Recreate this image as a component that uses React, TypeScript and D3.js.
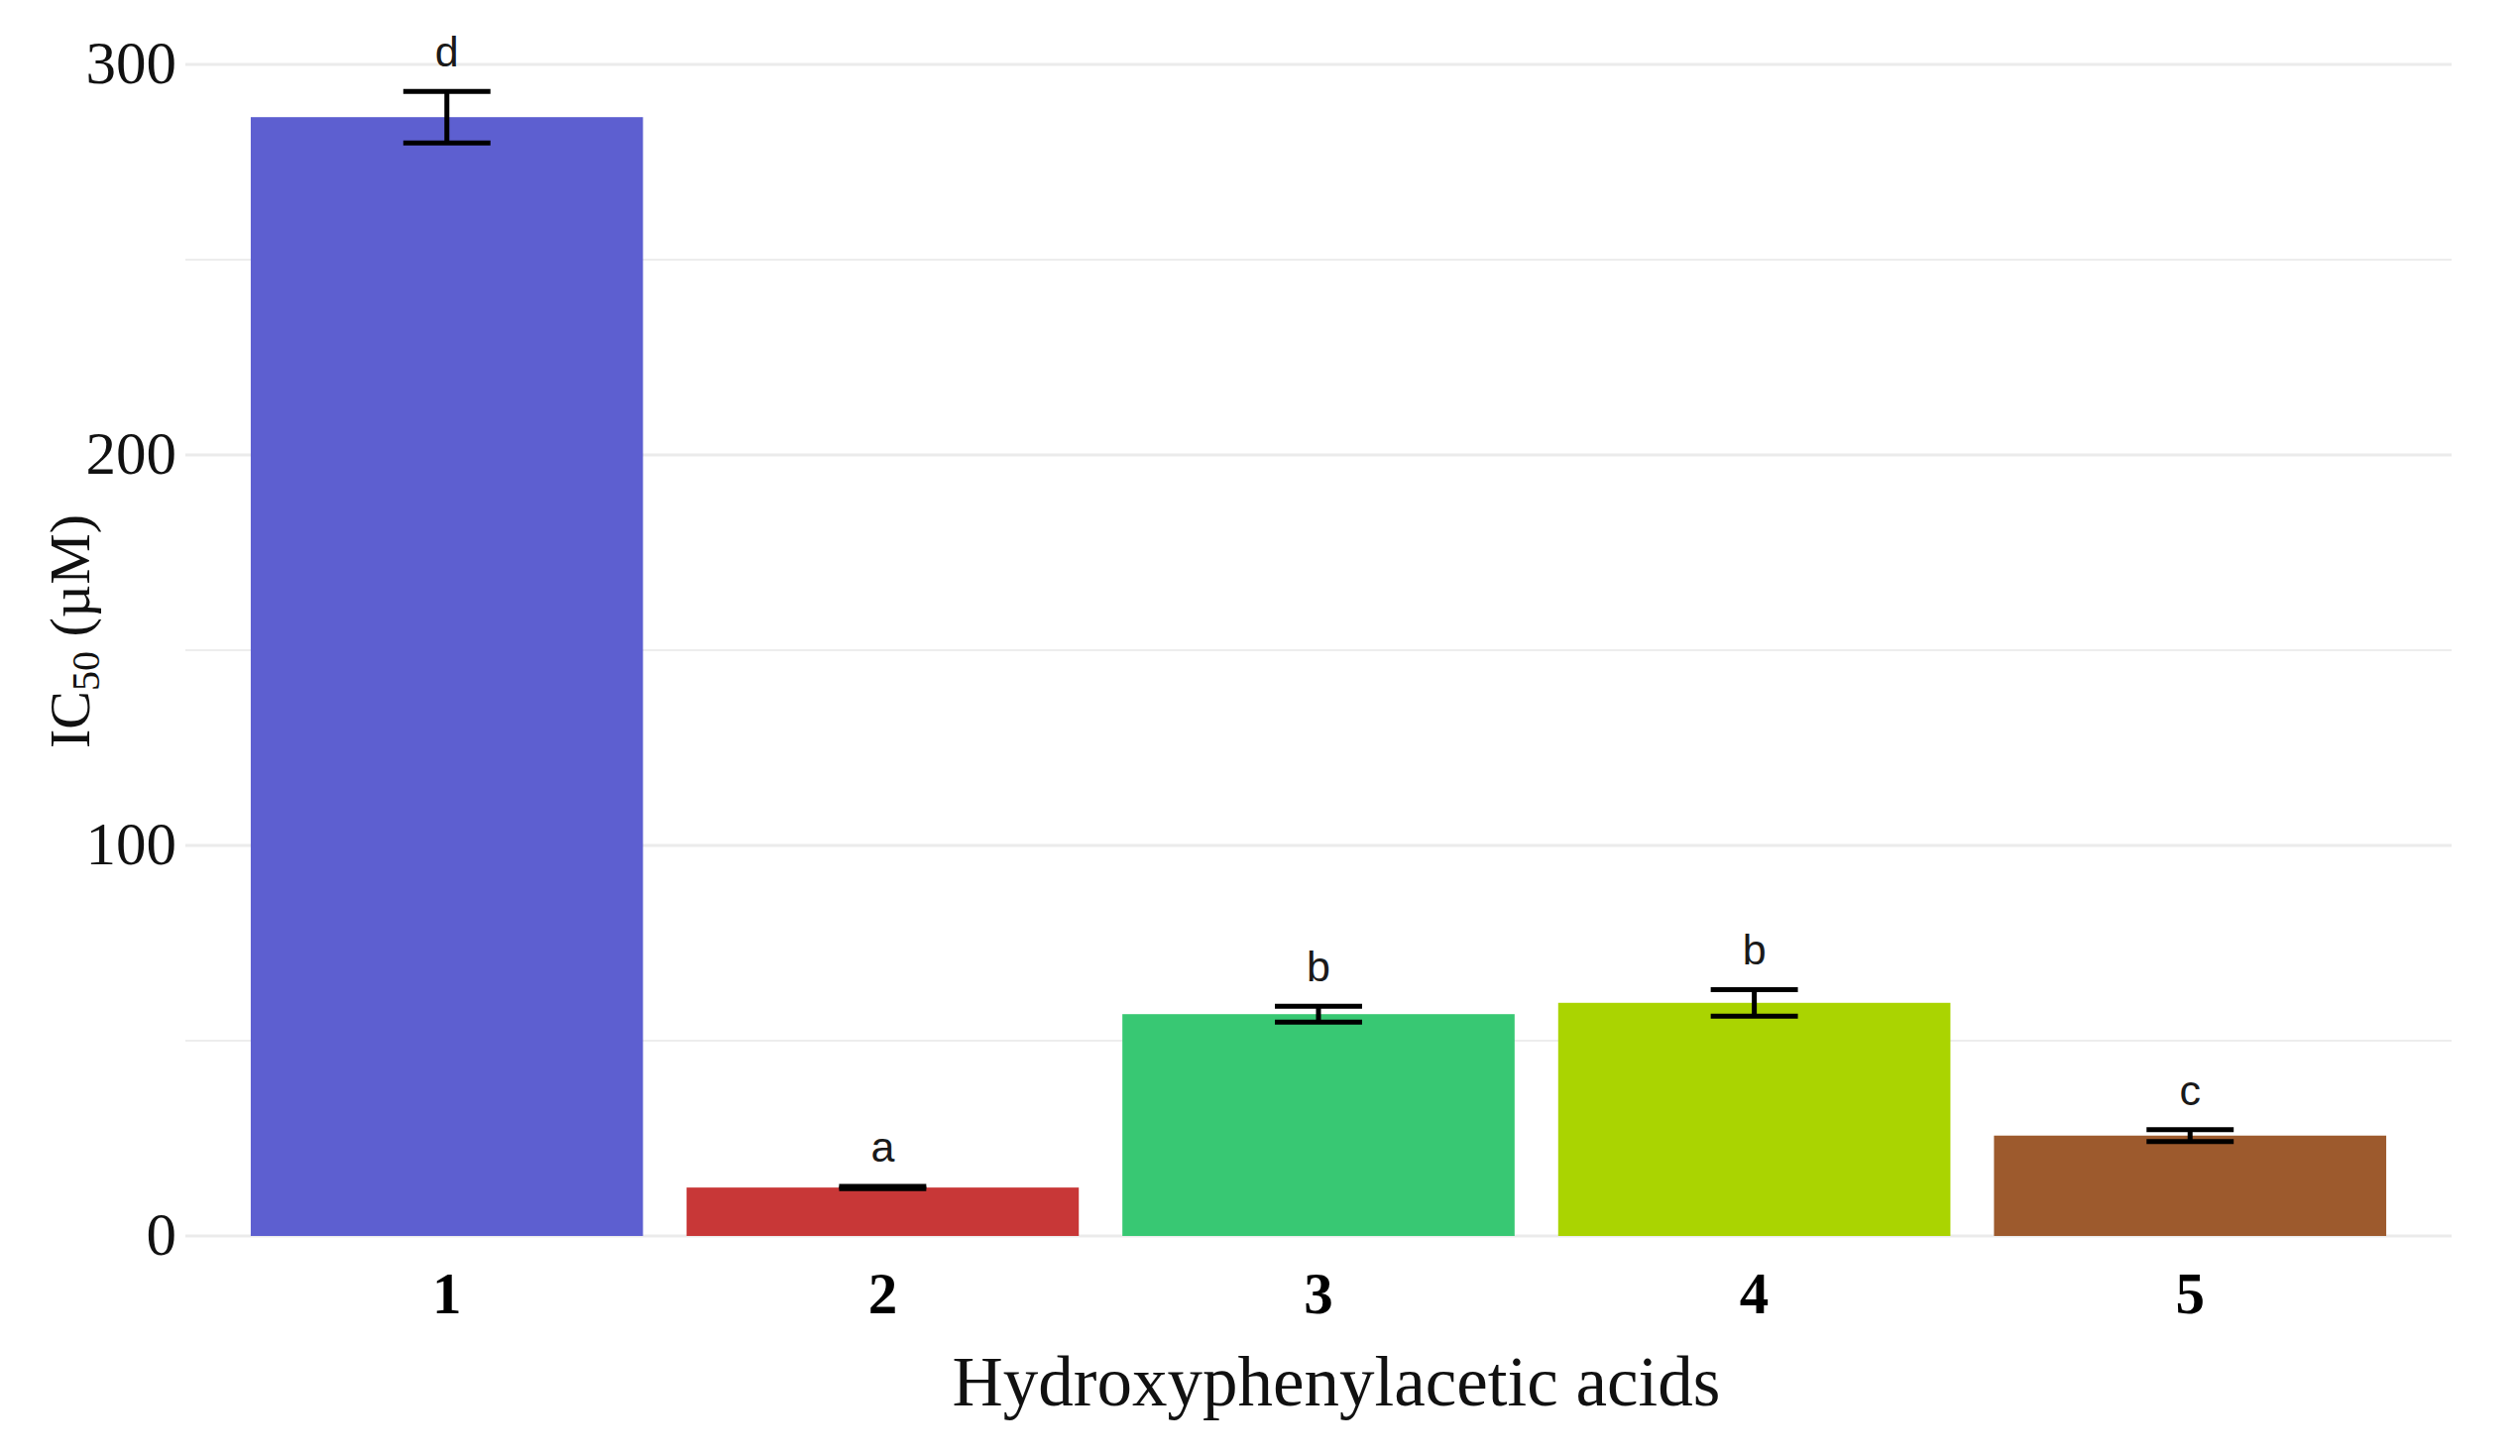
import React from 'react'
import * as d3 from 'd3'

const W = 2542
const H = 1469

const compounds = ['1', '2', '3', '4', '5']
const means = [286.5, 12.4, 56.8, 59.7, 25.7]
const sds = [6.6, 0.3, 2.05, 3.4, 1.55]
const letters = ['d', 'a', 'b', 'b', 'c']
const colors = ['#5D5FD0', '#C83737', '#38C873', '#AAD401', '#9D5A2D']
const majorTicks = [0, 100, 200, 300]
const minorTicks = [50, 150, 250]

const SERIF = '"Liberation Serif", "Times New Roman", serif'
const SANS = '"Liberation Sans", Arial, sans-serif'

export default function App() {
  const panel = { left: 187, right: 2473, top: 35, bottom: 1247 }

  const x = d3.scaleBand<string>()
    .domain(compounds)
    .range([panel.left, panel.right])
    .paddingInner(0.1)
    .paddingOuter(0.15)

  const y = d3.scaleLinear().domain([0, 300]).range([panel.bottom, 65])

  const rows = compounds.map((c, i) => ({
    c, mean: means[i], sd: sds[i], letter: letters[i], color: colors[i],
  }))

  const capW = x.step() * 0.2

  return (
    <svg
      width={W}
      height={H}
      style={{ position: 'absolute', left: 0, top: 0, background: '#fff', display: 'block' }}
    >
      <rect x={0} y={0} width={W} height={H} fill="#fff" />

      {/* grid */}
      {minorTicks.map(t => (
        <line key={'m' + t} x1={panel.left} x2={panel.right} y1={y(t)} y2={y(t)}
          stroke="#EDEDED" strokeWidth={2} />
      ))}
      {majorTicks.map(t => (
        <line key={'M' + t} x1={panel.left} x2={panel.right} y1={y(t)} y2={y(t)}
          stroke="#EBEBEB" strokeWidth={3} />
      ))}

      {/* bars */}
      {rows.map(d => (
        <rect key={'b' + d.c} x={x(d.c)} y={y(d.mean)} width={x.bandwidth()}
          height={y(0) - y(d.mean)} fill={d.color} />
      ))}

      {/* error bars */}
      {rows.map(d => {
        const cx = (x(d.c) ?? 0) + x.bandwidth() / 2
        const top = y(d.mean + d.sd)
        const bot = y(d.mean - d.sd)
        return (
          <g key={'e' + d.c} stroke="#000" strokeWidth={5}>
            <line x1={cx} x2={cx} y1={top} y2={bot} />
            <line x1={cx - capW / 2} x2={cx + capW / 2} y1={top} y2={top} />
            <line x1={cx - capW / 2} x2={cx + capW / 2} y1={bot} y2={bot} />
          </g>
        )
      })}

      {/* significance letters */}
      {rows.map(d => (
        <text key={'l' + d.c} x={(x(d.c) ?? 0) + x.bandwidth() / 2} y={y(d.mean + d.sd) - 25}
          textAnchor="middle" fontFamily={SANS} fontSize={43} fill="#1a1a1a">
          {d.letter}
        </text>
      ))}

      {/* y tick labels */}
      {majorTicks.map(t => (
        <text key={'yt' + t} x={178} y={y(t) + 19} textAnchor="end"
          fontFamily={SERIF} fontSize={61} fill="#111">
          {t}
        </text>
      ))}

      {/* x tick labels */}
      {compounds.map(c => (
        <text key={'xt' + c} x={(x(c) ?? 0) + x.bandwidth() / 2} y={1325} textAnchor="middle"
          fontFamily={SERIF} fontSize={59} fontWeight="bold" fill="#000">
          {c}
        </text>
      ))}

      {/* axis titles */}
      <text x={1348} y={1418} textAnchor="middle" fontFamily={SERIF} fontSize={71} fill="#111">
        Hydroxyphenylacetic acids
      </text>
      <text transform="translate(90,637) rotate(-90)" textAnchor="middle"
        fontFamily={SERIF} fontSize={58} fill="#111">
        IC<tspan fontSize={40} dy={10}>50</tspan><tspan dy={-10}> (µM)</tspan>
      </text>
    </svg>
  )
}
